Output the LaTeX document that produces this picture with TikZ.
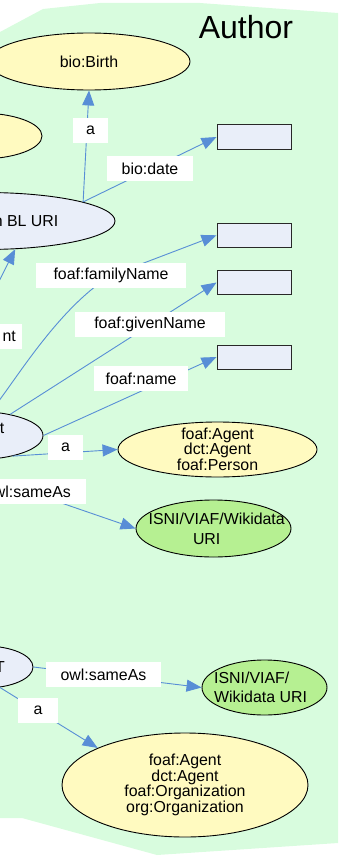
\documentclass[tikz,border=0pt]{standalone}
\usepackage{fontspec}
\setmainfont{Liberation Sans}
\usetikzlibrary{shapes.geometric,arrows.meta}
\definecolor{bggreen}{RGB}{216,252,222}
\definecolor{ylw}{RGB}{255,250,192}
\definecolor{lav}{RGB}{233,238,249}
\definecolor{grn}{RGB}{182,240,146}
\definecolor{edgeblue}{RGB}{88,142,214}
\definecolor{rectline}{RGB}{40,40,40}
\newcommand\fsn{\fontsize{15.9pt}{15.6pt}\selectfont}
\newcommand\fsg{\fontsize{15.9pt}{19.2pt}\selectfont}
\begin{document}
\begin{tikzpicture}[x=1pt,y=-1pt,
  ell/.style={ellipse, draw=black, line width=0.9pt, inner sep=0pt},
  txt/.style={inner sep=0pt, align=center, font=\fsn},
  lit/.style={rectangle, draw=rectline, line width=1pt, fill=lav, minimum width=74pt, minimum height=24pt, inner sep=0pt},
  lbl/.style={rectangle, fill=white, inner sep=0pt, minimum height=25pt, font=\fsn},
  edge/.style={draw=edgeblue, line width=0.9pt, -{Triangle[length=15pt,width=12pt]}}]
\useasboundingbox (0,0) rectangle (338,864);
\clip (0,0) rectangle (338,864);
% group background
\fill[bggreen] (0,32) -- (43,9) -- (100,3) -- (200,3) -- (338,13) -- (338,843) -- (157,855) -- (22,818) -- (0,818) -- cycle;
\node[font=\fontsize{32pt}{36pt}\selectfont, inner sep=0pt, anchor=base] (title) at (246,39) {Author};
% ellipses
\node[ell, fill=ylw, minimum width=124pt, minimum height=46pt] (leftY) at (-20,136) {};
\node[ell, fill=ylw, minimum width=202pt, minimum height=57pt] (birth) at (89,61.5) {};
\node[txt] (birthT) at (89,61.5) {bio:Birth};
\node[ell, fill=lav, minimum width=260pt, minimum height=57pt] (blurl) at (-15,221) {};
\node[txt, anchor=east] (blurlT) at (58.5,221) {n BL URI};
\node[ell, fill=lav, minimum width=132pt, minimum height=48pt] (person) at (-23,435.5) {};
\node[txt, anchor=east] (personT) at (4.5,428) {t};
\node[ell, fill=ylw, minimum width=199pt, minimum height=55pt] (agentP) at (217.5,449.5) {};
\node[txt] (agentPT) at (217.5,449) {foaf:Agent\\dct:Agent\\foaf:Person};
\node[ell, fill=grn, minimum width=155pt, minimum height=57pt] (isni1) at (213.5,528.5) {};
\node[txt, font=\fsg] (isni1T) at (216.7,528.8) {ISNI/VIAF/Wikidata\\URI\rule{20pt}{0pt}};
\node[ell, fill=lav, minimum width=96pt, minimum height=42pt] (org) at (-15,667) {};
\node[txt] (orgT) at (0,667) {T};
\node[ell, fill=grn, minimum width=125pt, minimum height=55pt] (isni2) at (264.5,687.5) {};
\node[txt, font=\fsg, align=left, anchor=west] (isni2T) at (214,687.3) {ISNI/VIAF/\\Wikidata URI};
\node[ell, fill=ylw, minimum width=246pt, minimum height=104pt] (orgY) at (185,785) {};
\node[txt] (orgYT) at (185,785) {foaf:Agent\\dct:Agent\\foaf:Organization\\org:Organization};
% literal boxes
\node[lit] (d1) at (254,137) {};
\node[lit] (d2) at (254,235.3) {};
\node[lit] (d3) at (254,282.5) {};
\node[lit] (d4) at (254,357) {};
% label centres
\coordinate (cFam) at (111,275.5);
\coordinate (cSame1) at (28,491.5);
% connectors
\draw[edge] (blurl.11) -- (birth.south);
\draw[edge] (blurl.11) -- (d1.west);
\draw[edge] (person.160) -- (blurl.-43);
\draw[edge] (person.61) .. controls (10,390) and (55,310) .. (cFam) -- (d2.west);
\draw[edge] (person) -- (d3.west);
\draw[edge] (person.east) -- (d4.west);
\draw[edge] (person.-30) -- (agentP.west);
\draw[edge] (person.south) .. controls (-10,480) .. (cSame1) -- (isni1.west);
\draw[edge] (org.east) -- (isni2.west);
\draw[edge] (org.-54) -- (orgY.157);
% edge labels
\node[lbl, minimum width=35pt] (la1) at (90.5,130.5) {a};
\node[lbl, minimum width=86pt] (ldate) at (150,168.5) {bio:date};
\node[lbl, minimum width=150pt] (lfam) at (cFam) {foaf:familyName};
\node[lbl, minimum width=150pt] (lgiv) at (150,324.5) {foaf:givenName};
\node[lbl, minimum width=94pt] (lname) at (141,378.5) {foaf:name};
\node[lbl, anchor=east, inner xsep=6pt] (lnt) at (22,336.5) {nt};
\node[lbl, minimum width=35pt] (la2) at (65.5,447) {a};
\node[lbl, minimum width=116pt] (lsame1) at (cSame1) {owl:sameAs};
\node[lbl, minimum width=115pt] (lsame2) at (103.5,674.5) {owl:sameAs};
\node[lbl, minimum width=40pt] (la3) at (38,710.5) {a};
\end{tikzpicture}
\end{document}
